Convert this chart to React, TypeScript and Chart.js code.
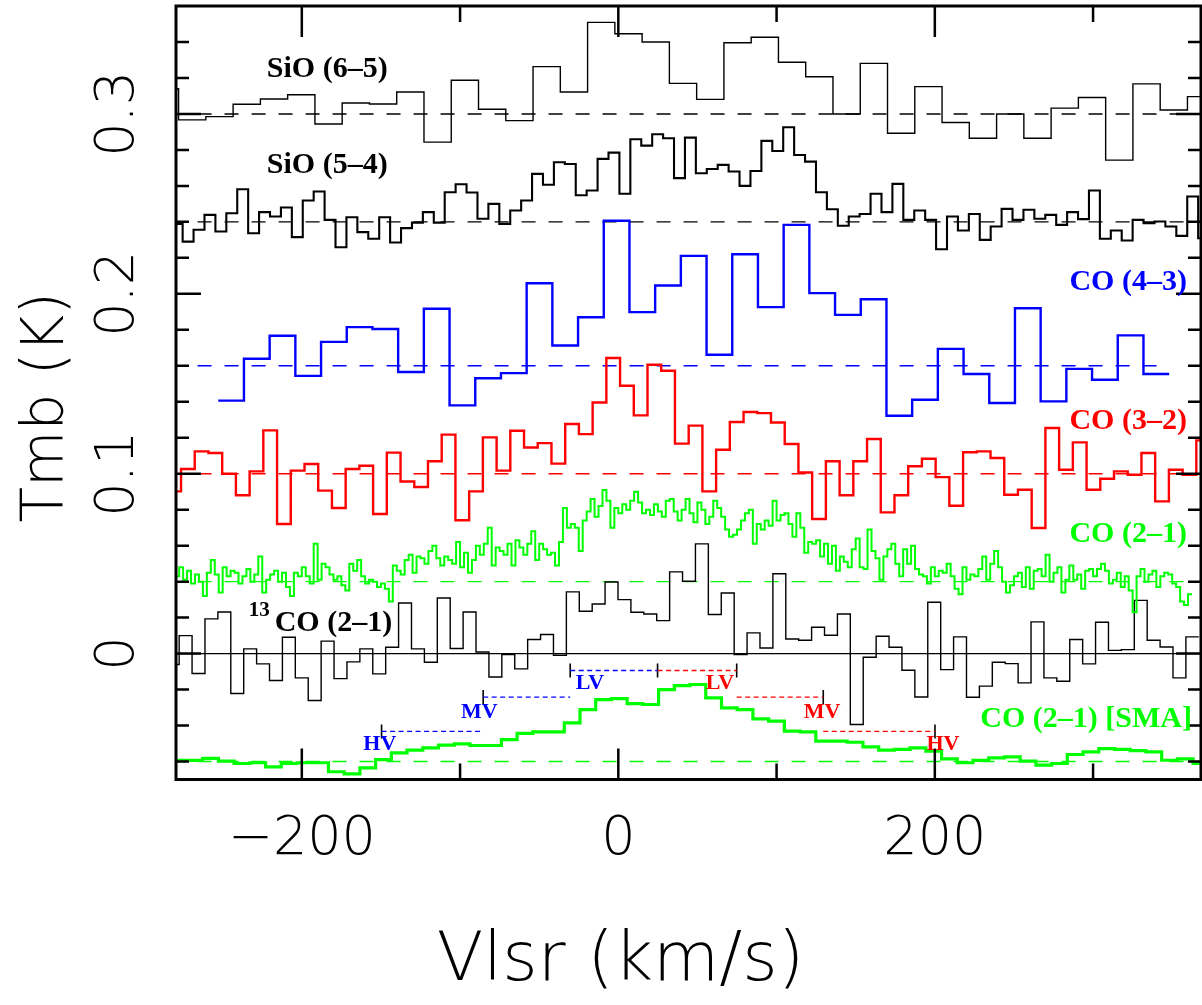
import React, { useEffect, useRef } from 'react';
import { Chart, registerables } from 'chart.js';
Chart.register(...registerables);

// ---------- axes ----------
const X_MIN = -279.5;
const X_MAX = 368.2;
const Y_MIN = -0.07;
const Y_MAX = 0.36;
const X_TICKS = [-200, -100, 0, 100, 200, 300];
const X_LABELED = [-200, 0, 200];
const Y_TICKS = [-0.06, -0.04, -0.02, 0, 0.02, 0.04, 0.06, 0.08, 0.1, 0.12, 0.14, 0.16, 0.18, 0.2, 0.22, 0.24, 0.26, 0.28, 0.3, 0.32, 0.34];
const Y_LABELED = [0, 0.1, 0.2, 0.3];

// ---------- spectra (channel start velocity, channel width, displayed Tmb incl. offset) ----------
const SIO65_START = -295.1;
const SIO65_WIDTH = 17.23;
const SIO65 = [0.314, 0.2967, 0.2985, 0.3054, 0.3083, 0.3107, 0.2944, 0.3061, 0.3055, 0.3122, 0.2843, 0.3187, 0.3026, 0.2963, 0.3263, 0.3122, 0.3509, 0.3446, 0.34, 0.317, 0.3081, 0.3396, 0.3426, 0.3287, 0.3207, 0.3, 0.3281, 0.2893, 0.3152, 0.2952, 0.2865, 0.3, 0.2865, 0.3032, 0.3091, 0.2743, 0.3167, 0.3022, 0.3096];

const SIO54_START = -282.2;
const SIO54_WIDTH = 6.9;
const SIO54 = [0.2389, 0.229, 0.2356, 0.2439, 0.2346, 0.2448, 0.2581, 0.2337, 0.2454, 0.243, 0.248, 0.2315, 0.2519, 0.2569, 0.2411, 0.2259, 0.2426, 0.2343, 0.2306, 0.2426, 0.2285, 0.2365, 0.2396, 0.2454, 0.2396, 0.2565, 0.2609, 0.2563, 0.2417, 0.25, 0.2389, 0.2463, 0.2519, 0.2667, 0.2606, 0.2731, 0.2722, 0.2548, 0.2574, 0.275, 0.2785, 0.2556, 0.2859, 0.2824, 0.2887, 0.2865, 0.2643, 0.2868, 0.267, 0.2694, 0.2717, 0.268, 0.26, 0.2683, 0.285, 0.2794, 0.2926, 0.2772, 0.2735, 0.2565, 0.247, 0.2378, 0.243, 0.2444, 0.2556, 0.2454, 0.2611, 0.2411, 0.2463, 0.2411, 0.2248, 0.243, 0.2352, 0.2444, 0.23, 0.2374, 0.2472, 0.2411, 0.2467, 0.2417, 0.2439, 0.2383, 0.2454, 0.2415, 0.2574, 0.2306, 0.2352, 0.2296, 0.2411, 0.2393, 0.2402, 0.2374, 0.2322, 0.2541, 0.2309];

const CO43_START = -252.8;
const CO43_WIDTH = 16.24;
const CO43 = [0.1406, 0.1639, 0.1767, 0.1544, 0.1733, 0.1815, 0.1804, 0.1565, 0.1917, 0.138, 0.1531, 0.1559, 0.2059, 0.1713, 0.187, 0.2406, 0.1898, 0.2046, 0.2211, 0.1661, 0.222, 0.1926, 0.2383, 0.2004, 0.1883, 0.197, 0.1322, 0.1411, 0.1694, 0.1554, 0.1393, 0.192, 0.1402, 0.1583, 0.1522, 0.1769, 0.1554];

const CO32_START = -285.0;
const CO32_WIDTH = 8.67;
const CO32 = [0.0902, 0.1026, 0.1124, 0.1115, 0.1, 0.088, 0.1013, 0.1241, 0.072, 0.1017, 0.1054, 0.0906, 0.0809, 0.1026, 0.1044, 0.0776, 0.1117, 0.0957, 0.0926, 0.1069, 0.1217, 0.0741, 0.0902, 0.1202, 0.1017, 0.1239, 0.1146, 0.117, 0.1056, 0.1276, 0.122, 0.1396, 0.1643, 0.1489, 0.1324, 0.1606, 0.1572, 0.1167, 0.1267, 0.0902, 0.1133, 0.1287, 0.1343, 0.1337, 0.1285, 0.1165, 0.1007, 0.0748, 0.1069, 0.088, 0.1069, 0.1193, 0.0785, 0.088, 0.1041, 0.1083, 0.0981, 0.0822, 0.1119, 0.1124, 0.1087, 0.0883, 0.0911, 0.0698, 0.1254, 0.1022, 0.1174, 0.0911, 0.0972, 0.1013, 0.0994, 0.1115, 0.0846, 0.1022, 0.0994, 0.1185];

const CO21_START = -280;
const CO21_WIDTH = 2.5;
const CO21 = [
  0.043, 0.048, 0.041, 0.046, 0.039, 0.044, 0.040, 0.032, 0.045, 0.052,
  0.044, 0.034, 0.048, 0.043, 0.046, 0.045, 0.039, 0.043, 0.047, 0.040,
  0.044, 0.054, 0.034, 0.041, 0.044, 0.046, 0.040, 0.045, 0.037, 0.032,
  0.045, 0.043, 0.048, 0.043, 0.039, 0.061, 0.041, 0.050, 0.048, 0.044,
  0.041, 0.043, 0.038, 0.035, 0.050, 0.046, 0.052, 0.043, 0.039, 0.041,
  0.040, 0.037, 0.039, 0.036, 0.029, 0.049, 0.046, 0.044, 0.052, 0.055,
  0.045, 0.054, 0.053, 0.050, 0.057, 0.060, 0.053, 0.049, 0.054, 0.052,
  0.050, 0.062, 0.048, 0.056, 0.045, 0.052, 0.060, 0.055, 0.061, 0.070,
  0.049, 0.059, 0.057, 0.055, 0.061, 0.049, 0.063, 0.059, 0.055, 0.061,
  0.068, 0.052, 0.061, 0.058, 0.055, 0.056, 0.049, 0.062, 0.081, 0.070,
  0.072, 0.070, 0.057, 0.074, 0.079, 0.086, 0.076, 0.082, 0.091, 0.085,
  0.070, 0.081, 0.078, 0.083, 0.080, 0.085, 0.090, 0.084, 0.078, 0.080,
  0.077, 0.083, 0.079, 0.076, 0.085, 0.086, 0.079, 0.074, 0.080, 0.086,
  0.078, 0.073, 0.084, 0.080, 0.072, 0.076, 0.085, 0.081, 0.076, 0.069,
  0.065, 0.066, 0.069, 0.074, 0.078, 0.080, 0.061, 0.072, 0.069, 0.074,
  0.071, 0.085, 0.074, 0.077, 0.078, 0.072, 0.065, 0.078, 0.070, 0.056,
  0.062, 0.061, 0.063, 0.054, 0.061, 0.050, 0.060, 0.046, 0.054, 0.051,
  0.048, 0.058, 0.064, 0.048, 0.047, 0.069, 0.057, 0.053, 0.041, 0.054,
  0.058, 0.061, 0.050, 0.043, 0.058, 0.050, 0.060, 0.047, 0.044, 0.043,
  0.039, 0.048, 0.043, 0.046, 0.045, 0.050, 0.043, 0.036, 0.033, 0.048,
  0.041, 0.044, 0.043, 0.047, 0.054, 0.041, 0.050, 0.057, 0.048, 0.040,
  0.034, 0.038, 0.043, 0.045, 0.037, 0.048, 0.036, 0.046, 0.047, 0.043,
  0.055, 0.040, 0.045, 0.048, 0.034, 0.041, 0.049, 0.041, 0.044, 0.036,
  0.046, 0.047, 0.043, 0.047, 0.050, 0.046, 0.039, 0.041, 0.045, 0.037,
  0.043, 0.035, 0.023, 0.043, 0.047, 0.040, 0.044, 0.046, 0.037, 0.043,
  0.045, 0.044, 0.039, 0.037, 0.029, 0.027, 0.033
];

const C13O_START = -285.66;
const C13O_WIDTH = 8.156;
const C13O = [-0.0061, 0.01, -0.0111, 0.0193, 0.0231, -0.0222, 0.0026, -0.0057, -0.015, 0.0091, -0.0135, -0.0261, 0.0069, -0.0139, -0.0046, 0.0026, -0.0113, 0.0035, 0.0281, 0.0026, -0.0048, 0.0309, 0.0028, 0.0231, 0.0009, -0.013, -0.0006, -0.0085, 0.0078, 0.0106, -0.0009, 0.0343, 0.0235, 0.0276, 0.0398, 0.03, 0.023, 0.022, 0.0183, 0.0454, 0.0402, 0.061, 0.0217, 0.0337, -0.0006, 0.0115, 0.0031, 0.0444, 0.0081, 0.0074, 0.0146, 0.0102, 0.022, -0.0394, -0.002, 0.0096, 0.0035, -0.0093, -0.0241, 0.0285, -0.0089, 0.0093, -0.0243, -0.0181, -0.0048, -0.0056, -0.0163, 0.0176, -0.0135, -0.0154, 0.0078, -0.0057, 0.0174, 0.0018, 0.0022, 0.0296, 0.0074, 0.0037, -0.0135, 0.0093];

const SMA_START = -282.5;
const SMA_WIDTH = 9.934;
const SMA = [-0.0594, -0.0594, -0.0583, -0.0598, -0.0611, -0.0607, -0.063, -0.0611, -0.0607, -0.0607, -0.0657, -0.0669, -0.0635, -0.0589, -0.0552, -0.0537, -0.0524, -0.0509, -0.0502, -0.0511, -0.0511, -0.0478, -0.0444, -0.0435, -0.0435, -0.0385, -0.0311, -0.0256, -0.025, -0.0278, -0.0283, -0.02, -0.0178, -0.0172, -0.0246, -0.0302, -0.0311, -0.0363, -0.0376, -0.0431, -0.0435, -0.0487, -0.0487, -0.0493, -0.0519, -0.0537, -0.0533, -0.0524, -0.0543, -0.0585, -0.0607, -0.0594, -0.058, -0.0574, -0.0598, -0.062, -0.0611, -0.0561, -0.0546, -0.0528, -0.0533, -0.0539, -0.0546, -0.0593, -0.0585, -0.0611];

// baselines (offsets of each spectrum)
const BASELINE_LEVELS = [0.3, 0.24, 0.16, 0.1, 0.04, -0.06];
const ZERO_LEVEL = 0;

// velocity ranges (HV / MV / LV), blue and red sides
const RANGE_LEVELS = [-0.0433, -0.0242, -0.0094];
const BLUE_EDGES = [-149.6, -85.4, -30.4, 24.8];
const RED_EDGES = [200.1, 129.5, 74.8, 24.8];

// ---------- styles ----------
const BLUE = '#0000ff';
const RED = '#ff0000';
const GREEN = '#00ff00';
const SERIF = '"Liberation Serif", "Times New Roman", serif';
const SANS = '"DejaVu Sans", sans-serif';

function steps(start: number, width: number, values: number[]) {
  const pts = values.map((y, i) => ({ x: start + i * width, y }));
  pts.push({ x: start + values.length * width, y: values[values.length - 1] });
  return pts;
}

const SPECTRA = [
  { data: steps(SIO65_START, SIO65_WIDTH, SIO65), color: '#000', width: 1.4 },
  { data: steps(SIO54_START, SIO54_WIDTH, SIO54), color: '#000', width: 2.1 },
  { data: steps(CO43_START, CO43_WIDTH, CO43), color: BLUE, width: 2.4 },
  { data: steps(CO32_START, CO32_WIDTH, CO32), color: RED, width: 2.4 },
  { data: steps(CO21_START, CO21_WIDTH, CO21), color: GREEN, width: 2 },
  { data: steps(C13O_START, C13O_WIDTH, C13O), color: '#000', width: 1.4 },
  { data: steps(SMA_START, SMA_WIDTH, SMA), color: GREEN, width: 3.2 },
];
const BASELINE_STYLE = [
  { color: '#000', x1: -300, x2: 400 },
  { color: '#000', x1: -300, x2: 400 },
  { color: BLUE, x1: -300, x2: 347 },
  { color: RED, x1: -300, x2: 400 },
  { color: GREEN, x1: -300, x2: 400 },
  { color: GREEN, x1: -300, x2: 400 },
];

const LABELS = [
  { text: 'SiO (6–5)', v: -222.1, t: 0.3204, color: '#000', align: 'left' },
  { text: 'SiO (5–4)', v: -222.1, t: 0.2671, color: '#000', align: 'left' },
  { text: 'CO (4–3)', v: 359.3, t: 0.2021, color: BLUE, align: 'right' },
  { text: 'CO (3–2)', v: 359.3, t: 0.1248, color: RED, align: 'right' },
  { text: 'CO (2–1)', v: 359.3, t: 0.0621, color: GREEN, align: 'right' },
  { text: 'CO (2–1) [SMA]', v: 362.5, t: -0.0407, color: GREEN, align: 'right' },
];
const ISO_LABEL = { sup: '13', text: 'CO (2–1)', v: -233.6, t: 0.0126 };
const RANGE_LABELS = [
  { text: 'HV', v: -150.7, t: -0.0502, color: BLUE },
  { text: 'MV', v: -87.9, t: -0.0324, color: BLUE },
  { text: 'LV', v: -17.9, t: -0.0168, color: BLUE },
  { text: 'LV', v: 64.2, t: -0.0168, color: RED },
  { text: 'MV', v: 128.7, t: -0.0324, color: RED },
  { text: 'HV', v: 205.1, t: -0.0502, color: RED },
];

const framePlugin = {
  id: 'frameAndLabels',
  afterDraw(chart: any) {
    const { ctx, chartArea: a, scales } = chart;
    const xs = scales.x;
    const ys = scales.y;
    ctx.save();
    ctx.strokeStyle = '#000';
    ctx.lineWidth = 3;
    ctx.strokeRect(a.left, a.top, a.right - a.left, a.bottom - a.top);
    ctx.lineWidth = 2.5;
    ctx.beginPath();
    for (const tk of xs.ticks) {
      const px = xs.getPixelForValue(tk.value);
      const len = X_LABELED.includes(tk.value) ? 31 : 16;
      ctx.moveTo(px, a.bottom);
      ctx.lineTo(px, a.bottom - len);
      ctx.moveTo(px, a.top);
      ctx.lineTo(px, a.top + len);
    }
    for (const tk of ys.ticks) {
      const py = ys.getPixelForValue(tk.value);
      const len = Y_LABELED.includes(tk.value) ? 25 : 13;
      ctx.moveTo(a.left, py);
      ctx.lineTo(a.left + len, py);
      ctx.moveTo(a.right, py);
      ctx.lineTo(a.right - len, py);
    }
    ctx.stroke();

    ctx.textBaseline = 'alphabetic';
    ctx.font = `bold 30px ${SERIF}`;
    for (const l of LABELS) {
      ctx.fillStyle = l.color;
      ctx.textAlign = l.align;
      ctx.fillText(l.text, xs.getPixelForValue(l.v), ys.getPixelForValue(l.t));
    }
    // 13CO label with superscript
    ctx.fillStyle = '#000';
    ctx.textAlign = 'left';
    const ix = xs.getPixelForValue(ISO_LABEL.v);
    const iy = ys.getPixelForValue(ISO_LABEL.t);
    ctx.font = `bold 21px ${SERIF}`;
    ctx.fillText(ISO_LABEL.sup, ix, iy - 15);
    const sw = ctx.measureText(ISO_LABEL.sup).width;
    ctx.font = `bold 30px ${SERIF}`;
    ctx.fillText(ISO_LABEL.text, ix + sw + 5, iy);

    ctx.font = `bold 22px ${SERIF}`;
    ctx.textAlign = 'center';
    ctx.textBaseline = 'middle';
    for (const l of RANGE_LABELS) {
      ctx.fillStyle = l.color;
      ctx.fillText(l.text, xs.getPixelForValue(l.v), ys.getPixelForValue(l.t));
    }
    ctx.restore();
  },
};

export default function App() {
  const ref = useRef<HTMLCanvasElement>(null);
  useEffect(() => {
    document.body.style.margin = '0';
    const datasets: any[] = [];
    SPECTRA.forEach((s) => {
      datasets.push({
        data: s.data,
        borderColor: s.color,
        borderWidth: s.width,
        stepped: 'before',
        pointRadius: 0,
        pointHoverRadius: 0,
        fill: false,
        borderJoinStyle: 'miter',
        tension: 0,
      });
    });
    BASELINE_LEVELS.forEach((lvl, i) => {
      const st = BASELINE_STYLE[i];
      datasets.push({
        data: [{ x: st.x1, y: lvl }, { x: st.x2, y: lvl }],
        borderColor: st.color,
        borderWidth: 1.4,
        borderDash: [14, 13],
        pointRadius: 0,
        fill: false,
      });
    });
    datasets.push({
      data: [{ x: -300, y: ZERO_LEVEL }, { x: 400, y: ZERO_LEVEL }],
      borderColor: '#000',
      borderWidth: 1.4,
      pointRadius: 0,
      fill: false,
    });
    RANGE_LEVELS.forEach((lvl, i) => {
      datasets.push({
        data: [{ x: BLUE_EDGES[i], y: lvl }, { x: BLUE_EDGES[i + 1], y: lvl }],
        borderColor: BLUE,
        borderWidth: 1.3,
        borderDash: [5, 3.5],
        pointRadius: 0,
        fill: false,
      });
      datasets.push({
        data: [{ x: RED_EDGES[i + 1], y: lvl }, { x: RED_EDGES[i], y: lvl }],
        borderColor: RED,
        borderWidth: 1.3,
        borderDash: [5, 3.5],
        pointRadius: 0,
        fill: false,
      });
    });
    const tickPts: any[] = [];
    RANGE_LEVELS.forEach((lvl, i) => {
      tickPts.push({ x: BLUE_EDGES[i], y: lvl });
      tickPts.push({ x: RED_EDGES[i], y: lvl });
    });
    tickPts.push({ x: BLUE_EDGES[3], y: RANGE_LEVELS[2] });
    datasets.push({
      type: 'scatter',
      data: tickPts,
      pointStyle: 'line',
      rotation: 90,
      radius: 7,
      borderColor: '#000',
      borderWidth: 1.6,
      showLine: false,
    });

    const chart = new Chart(ref.current as HTMLCanvasElement, {
      type: 'line',
      data: { datasets },
      options: {
        animation: false,
        responsive: false,
        devicePixelRatio: 1,
        events: [],
        layout: { autoPadding: false, padding: { left: 0, top: 6, right: 1, bottom: 0 } },
        plugins: { legend: { display: false }, tooltip: { enabled: false } },
        scales: {
          x: {
            type: 'linear',
            min: X_MIN,
            max: X_MAX,
            grid: { display: false, drawTicks: false },
            border: { display: false },
            afterBuildTicks: (s: any) => { s.ticks = X_TICKS.map((value) => ({ value })); },
            afterFit: (s: any) => {
              s.height = 225.5;
              s.paddingLeft = 0; s.paddingRight = 0; s.paddingTop = 0; s.paddingBottom = 0;
            },
            ticks: {
              autoSkip: false,
              minRotation: 0,
              maxRotation: 0,
              padding: 28,
              color: '#000',
              font: { family: SANS, size: 54, weight: '300' },
              callback: (v: any) => (X_LABELED.includes(v) ? (v < 0 ? '−' + Math.abs(v) : String(v)) : ''),
            },
            title: {
              display: true,
              text: 'Vlsr (km/s)\u2002\u2002\u2002\u2002',
              color: '#000',
              font: { family: SANS, size: 68, weight: '300' },
              padding: { top: 0, bottom: 2 },
            },
          },
          y: {
            type: 'linear',
            min: Y_MIN,
            max: Y_MAX,
            grid: { display: false, drawTicks: false },
            border: { display: false },
            afterBuildTicks: (s: any) => { s.ticks = Y_TICKS.map((value) => ({ value })); },
            afterFit: (s: any) => {
              s.width = 176;
              s.paddingLeft = 0; s.paddingRight = 0; s.paddingTop = 0; s.paddingBottom = 0;
            },
            ticks: {
              autoSkip: false,
              minRotation: 90,
              maxRotation: 90,
              crossAlign: 'center',
              padding: 14,
              color: '#000',
              font: { family: SANS, size: 54, weight: '300' },
              callback: (v: any) => (Y_LABELED.includes(v) ? (v === 0 ? '0' : v.toFixed(1)) : ''),
            },
            title: {
              display: true,
              text: 'Tmb (K)\u2002',
              color: '#000',
              font: { family: SANS, size: 58, weight: '300' },
              padding: { top: 13, bottom: 0 },
            },
          },
        },
      },
      plugins: [framePlugin],
    } as any);
    return () => chart.destroy();
  }, []);
  return (
    <div style={{ position: 'absolute', left: 0, top: 0, width: 1202, height: 1005, background: '#fff' }}>
      <canvas ref={ref} width={1202} height={1005} style={{ width: 1202, height: 1005, display: 'block' }} />
    </div>
  );
}
